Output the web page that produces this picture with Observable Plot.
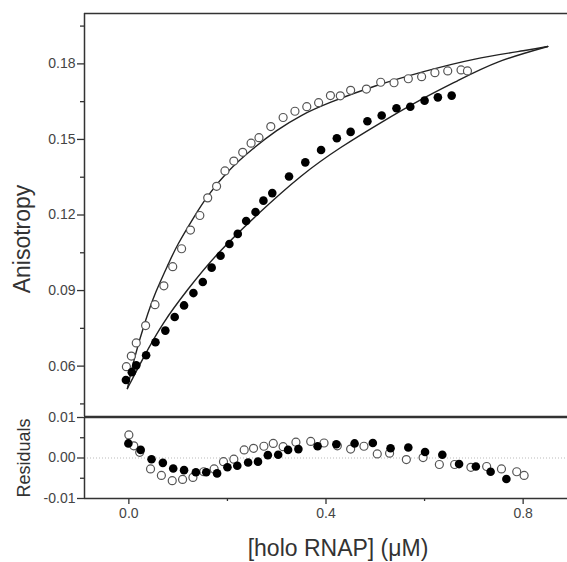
<!DOCTYPE html>
<html>
<head>
<meta charset="utf-8">
<script src="https://cdn.jsdelivr.net/npm/d3@7"></script>
<script src="https://cdn.jsdelivr.net/npm/@observablehq/plot@0.6"></script>
<style>
  body { margin: 0; background: white; }
  #wrap { position: relative; width: 567px; height: 562px; overflow: hidden; font-family: "Liberation Sans", Arial, sans-serif; }
  #wrap svg { position: absolute; left: 0; }
</style>
</head>
<body>
<div id="wrap"></div>
<script>
// ---- scales / ticks ----
const xDomain = [-0.09, 0.89];
const yTopDomain = [0.04, 0.20];
const yResDomain = [-0.01, 0.01];
const yMajorTicks = [0.06, 0.09, 0.12, 0.15, 0.18];
const yMinorTicks = [0.045, 0.075, 0.105, 0.135, 0.165, 0.195];
const resMajorTicks = [-0.01, 0.00, 0.01];
const resMinorTicks = [-0.005, 0.005];
const xMajorTicks = [0.0, 0.4, 0.8];
const xMinorTicks = [0.2, 0.6];

// ---- open circles (anisotropy) ----
const openX = [-0.005,0.005,0.015,0.034,0.053,0.071,0.089,0.107,0.125,0.144,0.160,0.178,0.195,0.213,0.231,0.248,0.264,0.288,0.313,0.337,0.361,0.385,0.409,0.429,0.450,0.482,0.511,0.538,0.567,0.594,0.621,0.647,0.674,0.687];
const openY = [0.0598,0.0640,0.0692,0.0761,0.0844,0.0919,0.0995,0.1066,0.1140,0.1198,0.1268,0.1314,0.1375,0.1414,0.1449,0.1485,0.1507,0.1551,0.1587,0.1612,0.1630,0.1646,0.1674,0.1673,0.1695,0.1700,0.1727,0.1725,0.1741,0.1749,0.1765,0.1772,0.1776,0.1772];

// ---- filled circles (anisotropy) ----
const filledX = [-0.006,0.006,0.015,0.035,0.054,0.074,0.093,0.112,0.131,0.150,0.168,0.186,0.204,0.221,0.238,0.257,0.273,0.291,0.325,0.358,0.390,0.422,0.450,0.484,0.513,0.543,0.571,0.600,0.627,0.655];
const filledY = [0.0545,0.0576,0.0603,0.0643,0.0695,0.0741,0.0795,0.0841,0.0890,0.0934,0.0991,0.1038,0.1085,0.1125,0.1176,0.1212,0.1257,0.1287,0.1353,0.1409,0.1458,0.1505,0.1530,0.1572,0.1595,0.1624,0.1630,0.1654,0.1667,0.1674];

// ---- fitted curves ----
const fitOpenX = [-0.003,0.012,0.033,0.055,0.080,0.100,0.130,0.160,0.200,0.250,0.300,0.350,0.410,0.500,0.600,0.700,0.800,0.850];
const fitOpenY = [0.0511,0.0635,0.0775,0.0895,0.1005,0.1085,0.1185,0.1275,0.1370,0.1460,0.1535,0.1595,0.1648,0.1712,0.1770,0.1818,0.1852,0.1869];
const fitFilledX = [-0.003,0.030,0.070,0.120,0.180,0.260,0.350,0.430,0.510,0.590,0.667,0.750,0.850];
const fitFilledY = [0.0511,0.0635,0.0770,0.0905,0.1045,0.1200,0.1355,0.1468,0.1565,0.1655,0.1733,0.1808,0.1869];

// ---- residuals ----
const resOpenX = [0.000,0.010,0.022,0.044,0.066,0.088,0.109,0.130,0.152,0.173,0.192,0.213,0.234,0.253,0.274,0.293,0.313,0.339,0.369,0.396,0.423,0.450,0.477,0.504,0.529,0.563,0.597,0.630,0.661,0.694,0.726,0.756,0.787,0.802];
const resOpenY = [0.0057,0.0030,0.0014,-0.0027,-0.0043,-0.0056,-0.0053,-0.0048,-0.0034,-0.0027,-0.0009,-0.0003,0.0020,0.0024,0.0029,0.0036,0.0028,0.0039,0.0041,0.0037,0.0030,0.0022,0.0029,0.0010,0.0012,-0.0004,0.0001,-0.0016,-0.0016,-0.0023,-0.0021,-0.0027,-0.0034,-0.0043];
const resFilledX = [-0.001,0.024,0.046,0.069,0.090,0.112,0.136,0.157,0.179,0.200,0.220,0.242,0.262,0.282,0.303,0.323,0.344,0.383,0.421,0.458,0.495,0.531,0.567,0.601,0.636,0.670,0.704,0.734,0.766];
const resFilledY = [0.0036,0.0020,-0.0003,-0.0012,-0.0026,-0.0030,-0.0035,-0.0035,-0.0038,-0.0023,-0.0019,-0.0011,-0.0009,0.0007,0.0008,0.0020,0.0022,0.0029,0.0034,0.0036,0.0037,0.0024,0.0026,0.0015,0.0008,-0.0015,-0.0021,-0.0034,-0.0052];

const zip = (xs, ys) => xs.map((x, i) => ({x, y: ys[i]}));
const openPts = zip(openX, openY);
const filledPts = zip(filledX, filledY);
const fitOpen = zip(fitOpenX, fitOpenY);
const fitFilled = zip(fitFilledX, fitFilledY);
const resOpen = zip(resOpenX, resOpenY);
const resFilled = zip(resFilledX, resFilledY);

const FRAME = "#333";
const TXT = "#444";
const FONT = "Liberation Sans, Arial, sans-serif";
const tickText = {fontSize: 14, letterSpacing: "0.6px"};

const topPlot = Plot.plot({
  width: 567, height: 417,
  marginLeft: 84, marginRight: 0, marginTop: 13, marginBottom: 1,
  style: {background: "transparent", overflow: "visible", fontFamily: FONT},
  x: {domain: xDomain, axis: null},
  y: {domain: yTopDomain, axis: null},
  marks: [
    Plot.ruleY([yTopDomain[1], yTopDomain[0]], {stroke: FRAME, strokeWidth: 1.5}),
    Plot.ruleX([xDomain[0]], {stroke: FRAME, strokeWidth: 1.5}),
    Plot.axisY({ticks: yMajorTicks, anchor: "left", tickSize: 7, tickPadding: 2, tickFormat: d => d.toFixed(2), ...tickText, stroke: FRAME, fill: TXT, strokeWidth: 1.3, label: null}),
    Plot.axisY({ticks: yMinorTicks, anchor: "left", tickSize: 4, tickFormat: () => "", stroke: FRAME, strokeWidth: 1.3, label: null}),
    Plot.line(fitOpen, {x: "x", y: "y", curve: "natural", stroke: "#222", strokeWidth: 1.4}),
    Plot.line(fitFilled, {x: "x", y: "y", curve: "natural", stroke: "#222", strokeWidth: 1.4}),
    Plot.dot(openPts, {x: "x", y: "y", r: 4, stroke: "#555", strokeWidth: 1.2, fill: "white"}),
    Plot.dot(filledPts, {x: "x", y: "y", r: 4.3, fill: "black", stroke: "none"}),
    Plot.text(["Anisotropy"], {text: d => d, frameAnchor: "left", textAnchor: "middle", lineAnchor: "middle", dx: -62, dy: 24, rotate: -90, fontSize: 23, letterSpacing: "1px", fill: "#333"})
  ]
});
topPlot.style.top = "0px";

const bottomPlot = Plot.plot({
  width: 567, height: 162,
  marginLeft: 84, marginRight: 0, marginTop: 17, marginBottom: 64,
  style: {background: "transparent", overflow: "visible", fontFamily: FONT},
  x: {domain: xDomain, axis: null},
  y: {domain: yResDomain, axis: null},
  marks: [
    Plot.ruleY([0], {stroke: "#bbb", strokeWidth: 1, strokeDasharray: "1,2"}),
    Plot.ruleY([yResDomain[1], yResDomain[0]], {stroke: FRAME, strokeWidth: 1.5}),
    Plot.ruleX([xDomain[0]], {stroke: FRAME, strokeWidth: 1.5}),
    Plot.axisY({ticks: resMajorTicks, anchor: "left", tickSize: 7, tickPadding: 2, tickFormat: d => d.toFixed(2), ...tickText, stroke: FRAME, fill: TXT, strokeWidth: 1.3, label: null}),
    Plot.axisY({ticks: resMinorTicks, anchor: "left", tickSize: 4, tickFormat: () => "", stroke: FRAME, strokeWidth: 1.3, label: null}),
    Plot.axisX({ticks: xMajorTicks, anchor: "bottom", tickSize: 6, tickPadding: 4, tickFormat: d => d.toFixed(1), ...tickText, stroke: FRAME, fill: TXT, strokeWidth: 1.3, label: null}),
    Plot.axisX({ticks: xMinorTicks, anchor: "bottom", tickSize: 3, tickFormat: () => "", stroke: FRAME, strokeWidth: 1.3, label: null}),
    Plot.dot(resOpen, {x: "x", y: "y", r: 4, stroke: "#555", strokeWidth: 1.2, fill: "white"}),
    Plot.dot(resFilled, {x: "x", y: "y", r: 4.3, fill: "black", stroke: "none"}),
    Plot.text(["Residuals"], {text: d => d, frameAnchor: "left", textAnchor: "middle", lineAnchor: "middle", dx: -60, rotate: -90, fontSize: 18, letterSpacing: "0.5px", fill: "#333"}),
    Plot.text(["[holo RNAP] (\u03BCM)"], {text: d => d, frameAnchor: "bottom", textAnchor: "middle", lineAnchor: "middle", dx: 12, dy: 50, fontSize: 23, letterSpacing: "1px", fill: "#333"})
  ]
});
bottomPlot.style.top = "400px";

const wrap = document.getElementById("wrap");
wrap.appendChild(topPlot);
wrap.appendChild(bottomPlot);
</script>
</body>
</html>
